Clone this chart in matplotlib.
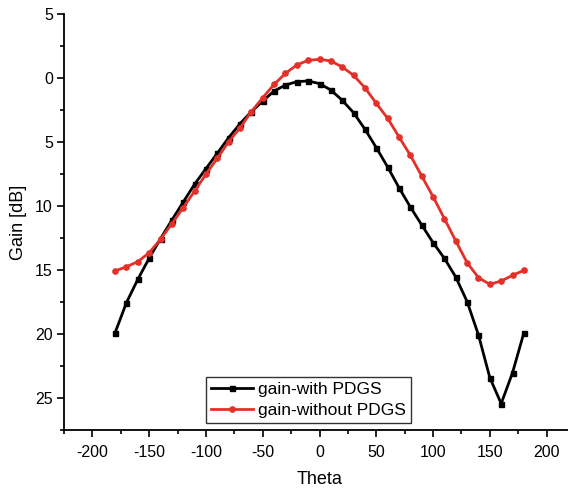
import matplotlib
matplotlib.use("Agg")
import matplotlib.pyplot as plt
from matplotlib.ticker import MultipleLocator, FixedLocator, FixedFormatter

plt.rcParams['font.family'] = ['Liberation Sans', 'DejaVu Sans']
plt.rcParams['axes.unicode_minus'] = False

theta = list(range(-180, 181, 10))
gain_with = [-19.9, -17.55, -15.73, -14.08, -12.55, -11.1, -9.69, -8.3, -7.08, -5.88,
             -4.66, -3.57, -2.63, -1.8, -1.02, -0.55, -0.29, -0.23, -0.44, -0.94,
             -1.74, -2.71, -4.0, -5.44, -6.95, -8.57, -10.08, -11.48, -12.86, -14.09,
             -15.55, -17.47, -20.08, -23.41, -25.44, -23.02, -19.9]
gain_without = [-15.08, -14.74, -14.35, -13.65, -12.6, -11.38, -10.13, -8.83, -7.52, -6.27,
                -4.98, -3.9, -2.63, -1.54, -0.5, 0.36, 1.02, 1.38, 1.46, 1.33,
                0.86, 0.21, -0.76, -1.98, -3.15, -4.6, -6.04, -7.66, -9.27, -10.99,
                -12.73, -14.43, -15.6, -16.12, -15.86, -15.42, -15.02]
y_ticks = [5, 0, -5, -10, -15, -20, -25]
y_tick_labels = ["5", "0", "5", "10", "15", "20", "25"]
x_ticks = [-200, -150, -100, -50, 0, 50, 100, 150, 200]

fig = plt.figure(figsize=(5.68, 4.91), dpi=100)
ax = fig.add_axes([64/568, 1-430/491, 511/568, 416/491])

ax.plot(theta, gain_with, color='black', lw=2.0, marker='s', ms=3.6,
        label='gain-with PDGS')
ax.plot(theta, gain_without, color='#E3312A', lw=2.0, marker='o', ms=3.8,
        label='gain-without PDGS')

ax.set_xlim(-225, 225)
ax.set_ylim(-27.5, 5)
ax.xaxis.set_major_locator(FixedLocator(x_ticks))
ax.xaxis.set_minor_locator(MultipleLocator(25))
ax.yaxis.set_major_locator(FixedLocator(y_ticks))
ax.yaxis.set_major_formatter(FixedFormatter(y_tick_labels))
ax.yaxis.set_minor_locator(MultipleLocator(2.5))

for s in ['top', 'right']:
    ax.spines[s].set_visible(False)
for s in ['left', 'bottom']:
    ax.spines[s].set_linewidth(1.3)
ax.tick_params(which='major', direction='out', length=5, width=1.2, labelsize=11.5)
ax.tick_params(axis='x', which='major', pad=6)
ax.tick_params(axis='y', which='major', pad=3)
ax.tick_params(which='minor', direction='out', length=3, width=1.2)

ax.set_xlabel('Theta', fontsize=13, labelpad=8)
ax.set_ylabel('Gain [dB]', fontsize=13, labelpad=6)

leg = ax.legend(loc='lower center', bbox_to_anchor=(0.4785, 0.017), borderaxespad=0,
                fontsize=12.5, frameon=True, fancybox=False, edgecolor='black',
                handlelength=2.4, handletextpad=0.3, borderpad=0.3, labelspacing=0.3)
leg.get_frame().set_linewidth(1.0)

fig.savefig('out.png', dpi=100)
